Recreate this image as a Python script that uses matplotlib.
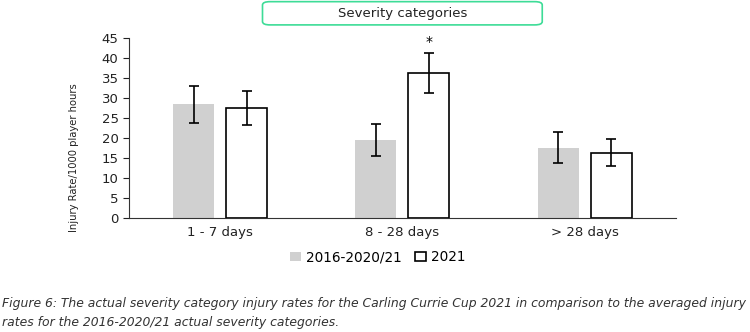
import matplotlib
matplotlib.use("Agg")
import matplotlib.pyplot as plt
from matplotlib.patches import FancyBboxPatch
import numpy as np

categories = ["1 - 7 days", "8 - 28 days", "> 28 days"]
avg_vals = [28.4, 19.5, 17.6]
avg_lo = [23.8, 15.6, 13.8]
avg_hi = [33.0, 23.5, 21.4]
y21_vals = [27.6, 36.2, 16.3]
y21_lo = [23.3, 31.3, 13.0]
y21_hi = [31.8, 41.2, 19.7]
yticks = list(range(0, 50, 5))
series_labels = ["2016-2020/21", "2021"]

fig = plt.figure(figsize=(7.5, 3.32), dpi=100)
ax = fig.add_axes([0.172, 0.343, 0.729, 0.543])

x = np.arange(len(categories))
w = 0.225
off = 0.146
a = np.array(avg_vals); b = np.array(y21_vals)
ax.bar(x - off, a, w, color="#d0d0d0", label=series_labels[0])
ax.bar(x + off, b, w, facecolor="white", edgecolor="black", linewidth=1.2, label=series_labels[1])
ax.errorbar(x - off, a, yerr=[a - np.array(avg_lo), np.array(avg_hi) - a], fmt="none",
            ecolor="black", elinewidth=1.2, capsize=3.5, capthick=1.2)
ax.errorbar(x + off, b, yerr=[b - np.array(y21_lo), np.array(y21_hi) - b], fmt="none",
            ecolor="black", elinewidth=1.2, capsize=3.5, capthick=1.2)
ax.text(1 + off, y21_hi[1] + 1.0, "*", ha="center", va="bottom", fontsize=10)

ax.set_xlim(-0.5, 2.5)
ax.set_ylim(0, 45)
ax.set_yticks(yticks)
ax.set_xticks(x)
ax.set_xticklabels(categories, fontsize=9.5, color="#222222")
ax.tick_params(axis="x", length=0, pad=6)
ax.tick_params(axis="y", labelsize=9.5, length=4, direction="out", colors="#222222")
for s in ["top", "right"]:
    ax.spines[s].set_visible(False)
ax.spines["left"].set_color("#333333")
ax.spines["bottom"].set_color("#333333")
ax.set_ylabel("Injury Rate/1000 player hours", fontsize=8.0, color="#222222",
              family="DejaVu Sans", fontstretch="condensed")
ax.yaxis.set_label_coords(-0.092, 0.333)

leg = fig.legend(loc="center", bbox_to_anchor=(0.504, 0.225), ncol=2, frameon=False,
                 fontsize=9.8, handlelength=0.75, handleheight=0.6, columnspacing=1.0, handletextpad=0.4)

box = FancyBboxPatch((0.35, 0.925), 0.373, 0.07, boxstyle="round,pad=0,rounding_size=0.01",
                     transform=fig.transFigure, facecolor="white", edgecolor="#3ddc97", linewidth=1.2)
fig.patches.append(box)
fig.text(0.537, 0.958, "Severity categories", ha="center", va="center", fontsize=9.5, color="#222222")

fig.text(0.003, 0.085, "Figure 6: The actual severity category injury rates for the Carling Currie Cup 2021 in comparison to the averaged injury",
         fontsize=8.95, style="italic", color="#333333", ha="left", va="center")
fig.text(0.003, 0.028, "rates for the 2016-2020/21 actual severity categories.",
         fontsize=8.95, style="italic", color="#333333", ha="left", va="center")

fig.savefig("out.png", dpi=100)
